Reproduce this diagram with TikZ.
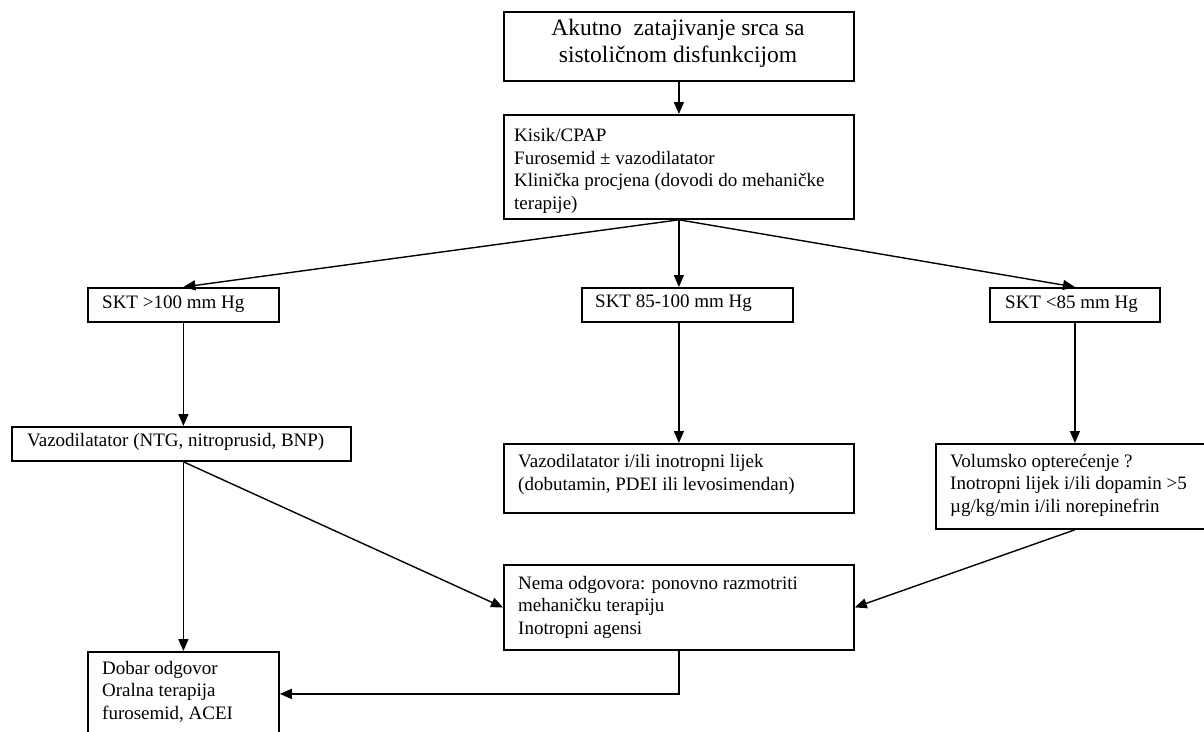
\documentclass[tikz,border=0pt]{standalone}
\usepackage{fontspec}
\setmainfont{Liberation Serif}
\usetikzlibrary{arrows.meta}
\begin{document}
\begin{tikzpicture}[x=1pt,y=-1pt,
  box/.style={draw, line width=1.8pt, anchor=north west, inner sep=0pt},
  % multi-line texts are placed by the baseline of their last line
  txt/.style={anchor=base west, align=left, inner sep=0pt,
    font=\fontsize{19}{22.5}\selectfont},
  arr/.style={line width=1.4pt, -{Triangle[length=12pt,width=10pt]}}]
\useasboundingbox (0,0) rectangle (1204,731);
\clip (0,0) rectangle (1204,731);

% boxes
\node[box, minimum width=350, minimum height=69]  (top)   at (503,11)  {};
\node[box, minimum width=350, minimum height=104] (b2)    at (503,114) {};
\node[box, minimum width=191, minimum height=34]  (s1)    at (87,287)  {};
\node[box, minimum width=211, minimum height=34]  (s2)    at (581,287) {};
\node[box, minimum width=170, minimum height=34]  (s3)    at (989,287) {};
\node[box, minimum width=339, minimum height=34]  (v1)    at (11,426)  {};
\node[box, minimum width=350, minimum height=69]  (v2)    at (503,443) {};
\node[box, minimum width=271, minimum height=85]  (v3)    at (935,443) {};
\node[box, minimum width=350, minimum height=85]  (nema)  at (503,564) {};
\node[box, minimum width=191, minimum height=84]  (dobar) at (87,651)  {};

% texts
\node[anchor=base, align=center, inner sep=0pt,
  font=\fontsize{23.5}{27}\selectfont] (top-t) at (678,62)
  {Akutno\ \ zatajivanje srca sa\\sistoličnom disfunkcijom};
\node[txt] (b2-t) at (514,209)
  {Kisik/CPAP\\Furosemid ± vazodilatator\\Klinička procjena (dovodi do mehaničke\\terapije)};
\node[txt] (s1-t) at (102,308) {SKT >100 mm Hg};
\node[txt] (s2-t) at (595,307) {SKT 85-100 mm Hg};
\node[txt] (s3-t) at (1005,308) {SKT <85 mm Hg};
\node[txt] (v1-t) at (27,446) {Vazodilatator (NTG, nitroprusid, BNP)};
\node[txt] (v2-t) at (518,490)
  {Vazodilatator i/ili inotropni lijek\\(dobutamin, PDEI ili levosimendan)};
\node[txt] (v3-t) at (950,512)
  {Volumsko opterećenje ?\\Inotropni lijek i/ili dopamin >5\\µg/kg/min i/ili norepinefrin};
\node[txt] (nema-t) at (518,634)
  {Nema odgovora: ponovno razmotriti\\mehaničku terapiju\\Inotropni agensi};
\node[txt] (dobar-t) at (102,719)
  {Dobar odgovor\\Oralna terapija\\furosemid, ACEI};

% connectors
\draw[arr] (top.south) -- (b2.north);
\draw[arr] (b2.south) -- (s1.north);
\draw[arr] (b2.south) -- (b2.south |- s2.north);
\draw[arr] (b2.south) -- (s3.north);
\draw[arr] (s1.south) -- (s1.south |- v1.north);
\draw[arr] (b2.south |- s2.south) -- (v2.north);
\draw[arr] (s3.south) -- (s3.south |- v3.north);
\coordinate (v1o) at (s1.south |- v1.south);
\draw[arr] (v1o) -- (dobar.north);
\draw[arr] (v1o) -- (nema.west);
\draw[arr] (s3.south |- v3.south) -- (nema.east);
\draw[arr] (nema.south) |- (dobar.east);
\end{tikzpicture}
\end{document}
